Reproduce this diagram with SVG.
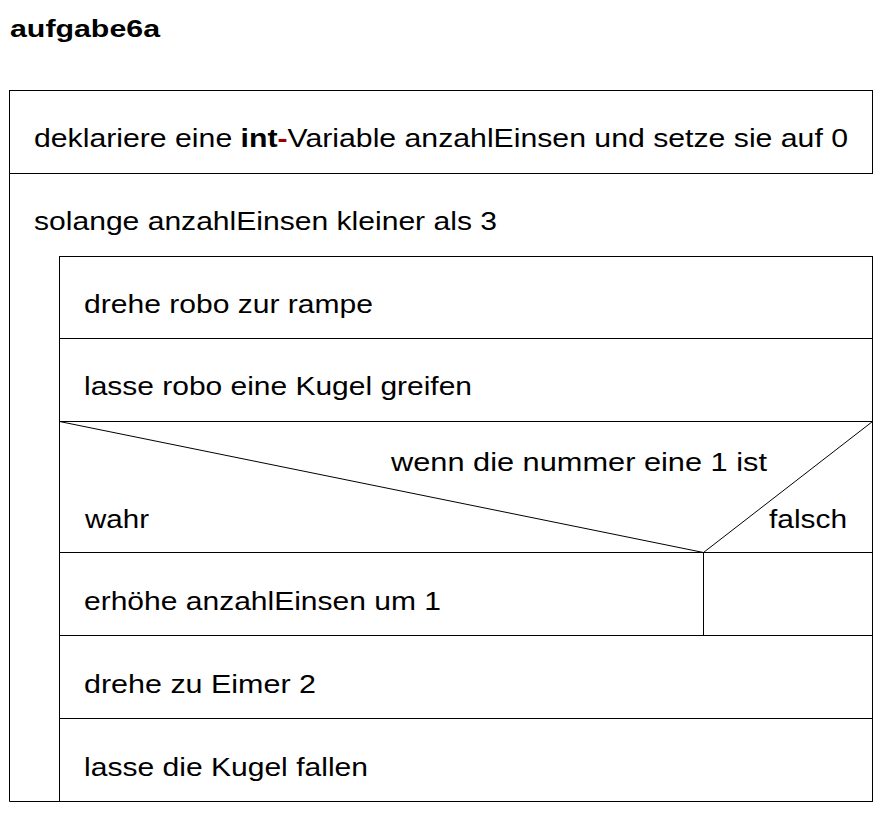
<svg xmlns="http://www.w3.org/2000/svg" width="889" height="813" viewBox="0 0 889 813">
<style>
  .t { font-family: "Liberation Sans", Arial, sans-serif; font-size: 25px; fill: #000; }
  .title { font-family: "Liberation Sans", Arial, sans-serif; font-size: 24px; font-weight: bold; fill: #000; }
  .ln { stroke: #000; stroke-width: 1; fill: none; }
  .b { font-weight: bold; }
  .r { font-weight: bold; fill: #990000; }
</style>
<rect x="0" y="0" width="889" height="813" fill="#fff"/>
<text class="title" x="10" y="37" textLength="150" lengthAdjust="spacingAndGlyphs">aufgabe6a</text>

<g id="decl">
  <rect class="ln" x="9.5" y="90.5" width="863" height="83"/>
  <text class="t" x="34" y="147" textLength="814" lengthAdjust="spacingAndGlyphs">deklariere eine <tspan class="b">int</tspan><tspan class="r">-</tspan>Variable anzahlEinsen und setze sie auf 0</text>
</g>

<g id="loop">
  <path class="ln" d="M9.5,173.5 H872.5 M9.5,173.5 V801.5 H59.5"/>
  <text class="t" x="34" y="230" textLength="463" lengthAdjust="spacingAndGlyphs">solange anzahlEinsen kleiner als 3</text>
</g>

<g id="s1">
  <rect class="ln" x="59.5" y="256.5" width="813" height="82"/>
  <text class="t" x="84" y="313" textLength="289" lengthAdjust="spacingAndGlyphs">drehe robo zur rampe</text>
</g>

<g id="s2">
  <rect class="ln" x="59.5" y="338.5" width="813" height="83"/>
  <text class="t" x="84" y="395" textLength="388" lengthAdjust="spacingAndGlyphs">lasse robo eine Kugel greifen</text>
</g>

<g id="if">
  <rect class="ln" x="59.5" y="421.5" width="813" height="131"/>
  <text class="t" x="391" y="471" textLength="376" lengthAdjust="spacingAndGlyphs">wenn die nummer eine 1 ist</text>
  <text class="t" x="85" y="528" textLength="64" lengthAdjust="spacingAndGlyphs">wahr</text>
  <text class="t" x="769" y="528" textLength="78" lengthAdjust="spacingAndGlyphs">falsch</text>
</g>

<g id="s3">
  <rect class="ln" x="59.5" y="552.5" width="644" height="83"/>
  <text class="t" x="84" y="610" textLength="357" lengthAdjust="spacingAndGlyphs">erhöhe anzahlEinsen um 1</text>
</g>

<g id="empty">
  <rect class="ln" x="703.5" y="552.5" width="169" height="83"/>
</g>

<g id="s4">
  <rect class="ln" x="59.5" y="635.5" width="813" height="83"/>
  <text class="t" x="84" y="693" textLength="232" lengthAdjust="spacingAndGlyphs">drehe zu Eimer 2</text>
</g>

<g id="s5">
  <rect class="ln" x="59.5" y="718.5" width="813" height="83"/>
  <text class="t" x="84" y="776" textLength="284" lengthAdjust="spacingAndGlyphs">lasse die Kugel fallen</text>
</g>

<g id="connectors">
  <path class="ln" d="M59.5,421.5 L703.5,552.5 L872.5,421.5"/>
</g>
</svg>
